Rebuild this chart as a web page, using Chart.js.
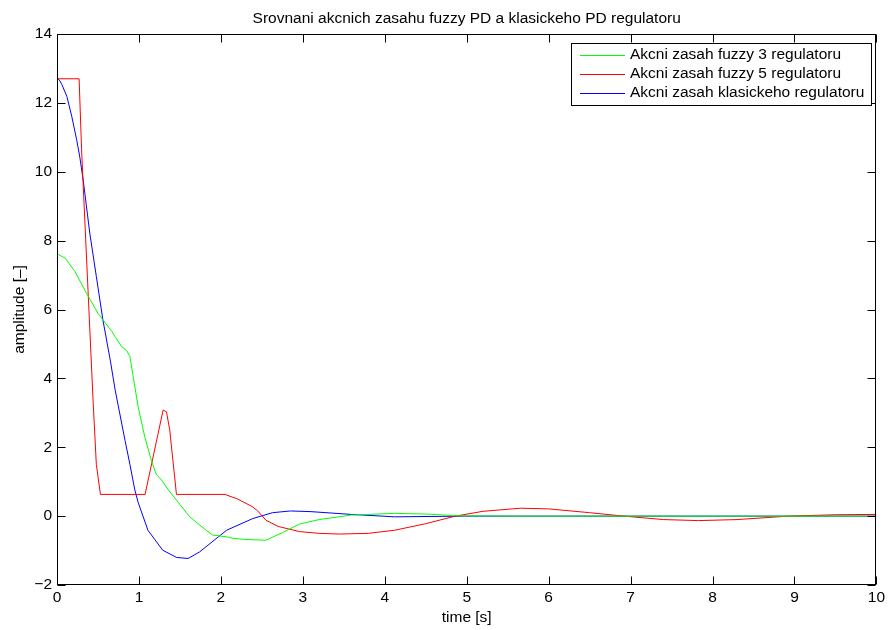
<!DOCTYPE html>
<html>
<head>
<meta charset="utf-8">
<script src="https://cdn.jsdelivr.net/npm/chart.js@4"></script>
<style>
  html, body { margin: 0; padding: 0; background: #fff; }
  #wrap { width: 888px; height: 630px; }
</style>
</head>
<body>
<div id="wrap"><canvas id="c" width="888" height="630"></canvas></div>
<script>
const chartTitle = "Srovnani akcnich zasahu fuzzy PD a klasickeho PD regulatoru";
const xTitle = "time [s]";
const yTitle = "amplitude [\u2013]";
const seriesNames = ["Akcni zasah fuzzy 3 regulatoru", "Akcni zasah fuzzy 5 regulatoru", "Akcni zasah klasickeho regulatoru"];
const seriesColors = ["#00ff00", "#ff0000", "#0000ff"];

const xTicks = [0,1,2,3,4,5,6,7,8,9,10];
const yTicks = [-2,0,2,4,6,8,10,12,14];

// fuzzy 3 (green)
const tFuzzy3 = [0, 0.1, 0.22, 0.36, 0.5, 0.67, 0.71, 0.79, 0.85, 0.89, 0.93, 0.99, 1.07, 1.15, 1.21, 1.275, 1.36, 1.48, 1.62, 1.82, 1.90, 2.07, 2.16, 2.31, 2.55, 2.75, 2.96, 3.2, 3.59, 4.12, 4.5, 4.91, 5.5, 6, 7, 8, 9, 10];
const vFuzzy3 = [7.62, 7.49, 7.10, 6.47, 5.89, 5.36, 5.21, 4.92, 4.81, 4.63, 4.05, 3.18, 2.31, 1.63, 1.22, 1.05, 0.76, 0.40, -0.02, -0.41, -0.55, -0.60, -0.65, -0.68, -0.70, -0.48, -0.23, -0.10, 0.03, 0.08, 0.06, 0.01, 0, 0, 0, 0, 0, 0];

// fuzzy 5 (red)
const tFuzzy5 = [0, 0.27, 0.30, 0.37, 0.44, 0.48, 0.53, 1.075, 1.295, 1.336, 1.376, 1.458, 2.05, 2.2, 2.38, 2.45, 2.55, 2.7, 2.96, 3.2, 3.45, 3.8, 4.12, 4.5, 4.86, 5.2, 5.66, 6.0, 6.5, 6.92, 7.4, 7.83, 8.3, 8.93, 9.5, 10];
const vFuzzy5 = [12.7, 12.7, 10.64, 7.0, 3.37, 1.5, 0.63, 0.63, 3.08, 3.03, 2.5, 0.63, 0.63, 0.5, 0.28, 0.15, -0.12, -0.3, -0.45, -0.5, -0.52, -0.5, -0.41, -0.22, 0.0, 0.14, 0.23, 0.21, 0.1, 0.0, -0.1, -0.13, -0.1, 0.0, 0.04, 0.05];

// classic PD (blue)
const tClassic = [0, 0.03, 0.06, 0.12, 0.18, 0.24, 0.28, 0.32, 0.40, 0.48, 0.56, 0.65, 0.71, 0.83, 0.89, 0.95, 0.99, 1.11, 1.29, 1.46, 1.60, 1.74, 2.07, 2.39, 2.63, 2.85, 3.1, 3.59, 4.12, 5, 6, 7, 8, 9, 10];
const vClassic = [12.72, 12.66, 12.53, 12.19, 11.61, 10.93, 10.40, 9.75, 8.22, 6.96, 5.70, 4.53, 3.66, 2.2, 1.5, 0.76, 0.40, -0.41, -0.99, -1.20, -1.23, -1.04, -0.41, -0.07, 0.10, 0.15, 0.13, 0.05, -0.02, 0, 0, 0, 0, 0, 0];

const FONT = "'Liberation Sans', Arial, sans-serif";
const FS = 15.5;

function pts(ts, vs) { return ts.map((t, i) => ({ x: t, y: vs[i] })); }

const framePlugin = {
  id: 'frame',
  afterDraw(chart) {
    const ctx = chart.ctx;
    const a = chart.chartArea;
    const xs = chart.scales.x, ys = chart.scales.y;
    ctx.save();
    ctx.strokeStyle = '#000';
    ctx.lineWidth = 1;
    const L = Math.round(a.left) + 0.5, R = Math.round(a.right) - 0.5;
    const T = Math.round(a.top) + 0.5, B = Math.round(a.bottom) - 0.5;
    ctx.strokeRect(L, T, R - L, B - T);
    const tl = 8;
    ctx.beginPath();
    xTicks.forEach(v => {
      const px = Math.round(xs.getPixelForValue(v)) + 0.5;
      ctx.moveTo(px, B); ctx.lineTo(px, B - tl);
      ctx.moveTo(px, T); ctx.lineTo(px, T + tl);
    });
    yTicks.forEach(v => {
      const py = Math.round(ys.getPixelForValue(v)) + 0.5;
      ctx.moveTo(L, py); ctx.lineTo(L + tl, py);
      ctx.moveTo(R, py); ctx.lineTo(R - tl, py);
    });
    ctx.stroke();
    // title
    ctx.fillStyle = '#000';
    ctx.font = FS + 'px ' + FONT;
    ctx.textAlign = 'center';
    ctx.textBaseline = 'middle';
    ctx.fillText(chartTitle, (a.left + a.right) / 2, 19);
    // legend
    const lx = 571, ly = 43, lw = 300, lh = 62;
    ctx.fillStyle = '#fff';
    ctx.fillRect(lx, ly, lw, lh);
    ctx.strokeStyle = '#000';
    ctx.strokeRect(lx + 0.5, ly + 0.5, lw, lh);
    ctx.textAlign = 'left';
    chart.data.datasets.forEach((ds, i) => {
      const y = 55 + i * 19;
      ctx.strokeStyle = ds.borderColor;
      ctx.beginPath();
      ctx.moveTo(580, y + 0.5); ctx.lineTo(625, y + 0.5);
      ctx.stroke();
      ctx.fillStyle = '#000';
      ctx.fillText(ds.label, 630, y);
    });
    ctx.restore();
  }
};

new Chart(document.getElementById('c'), {
  type: 'line',
  data: {
    datasets: [
      { label: seriesNames[0], data: pts(tFuzzy3, vFuzzy3), borderColor: seriesColors[0] },
      { label: seriesNames[1], data: pts(tFuzzy5, vFuzzy5), borderColor: seriesColors[1] },
      { label: seriesNames[2], data: pts(tClassic, vClassic), borderColor: seriesColors[2] }
    ]
  },
  options: {
    responsive: false,
    animation: false,
    events: [],
    layout: { padding: { top: 34, right: 10, left: 0, bottom: 0 } },
    elements: {
      line: { borderWidth: 1, tension: 0, fill: false },
      point: { radius: 0 }
    },
    plugins: { legend: { display: false }, title: { display: false }, tooltip: { enabled: false } },
    scales: {
      x: {
        type: 'linear', min: 0, max: 10,
        afterFit(s) { s.height = 45; },
        afterBuildTicks(s) { s.ticks = xTicks.map(v => ({ value: v })); },
        grid: { display: false, drawTicks: false },
        border: { display: false },
        ticks: { color: '#000', font: { family: FONT, size: FS }, padding: 3, maxRotation: 0, autoSkip: false },
        title: { display: true, text: xTitle, color: '#000', font: { family: FONT, size: FS }, padding: { top: 0, bottom: 2.5 } }
      },
      y: {
        type: 'linear', min: -2, max: 14,
        afterFit(s) { s.width = 57; },
        afterBuildTicks(s) { s.ticks = yTicks.map(v => ({ value: v })); },
        grid: { display: false, drawTicks: false },
        border: { display: false },
        ticks: { color: '#000', font: { family: FONT, size: FS }, padding: 5, autoSkip: false,
          callback: v => String(v).replace('-', '\u2212') },
        title: { display: true, text: yTitle, color: '#000', font: { family: FONT, size: FS }, padding: { top: 10.5, bottom: 0 } }
      }
    }
  },
  plugins: [framePlugin]
});
</script>
</body>
</html>
